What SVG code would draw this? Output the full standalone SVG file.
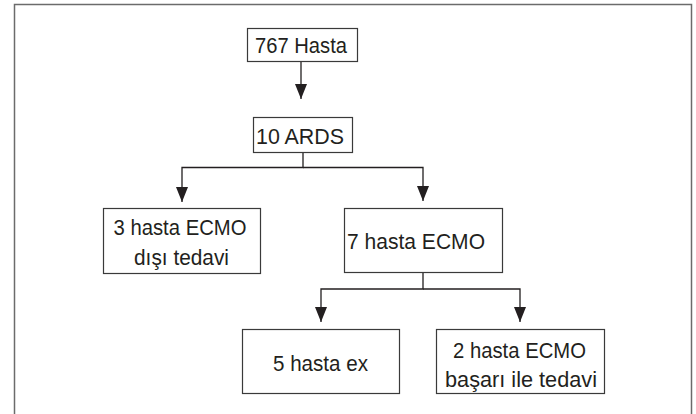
<svg xmlns="http://www.w3.org/2000/svg" width="696" height="414" viewBox="0 0 696 414">
<style>
.frame{fill:none;stroke:#6b6b6b;stroke-width:1.5}
.box{fill:#fff;stroke:#3a3a3a;stroke-width:1.2}
.t{font-family:"Liberation Sans",Arial,sans-serif;font-size:22px;fill:#231f20;text-anchor:middle}
.c{fill:none;stroke:#231f20;stroke-width:1.3}
</style>
<defs>
<marker id="ah" viewBox="0 0 15 12" refX="15" refY="6" markerWidth="15" markerHeight="12" markerUnits="userSpaceOnUse" orient="auto">
<path d="M0,0 L15,6 L0,12 z" fill="#231f20"/>
</marker>
</defs>
<rect width="696" height="414" fill="#fff"/>
<rect class="frame" x="14.5" y="4.5" width="677" height="430"/>
<g id="connectors">
<path class="c" d="M301,61 V99" marker-end="url(#ah)"/>
<path class="c" d="M303,152 V167.5 H182 V202" marker-end="url(#ah)"/>
<path class="c" d="M303,167.5 H423 V201" marker-end="url(#ah)"/>
<path class="c" d="M423,272 V289 H321 V322" marker-end="url(#ah)"/>
<path class="c" d="M423,289 H520 V322" marker-end="url(#ah)"/>
</g>
<g id="n1">
<rect class="box" x="247.5" y="28.5" width="110" height="33"/>
<text class="t" x="301" y="52.5" textLength="92" lengthAdjust="spacingAndGlyphs">767 Hasta</text>
</g>
<g id="n2">
<rect class="box" x="253.5" y="117.5" width="99" height="35"/>
<text class="t" x="300" y="144" textLength="88" lengthAdjust="spacingAndGlyphs">10 ARDS</text>
</g>
<g id="n3">
<rect class="box" x="103.5" y="208.5" width="157" height="65"/>
<text class="t" x="180" y="234.5" textLength="133" lengthAdjust="spacingAndGlyphs">3 hasta ECMO</text>
<text class="t" x="181.5" y="264.5" textLength="95" lengthAdjust="spacingAndGlyphs">dışı tedavi</text>
</g>
<g id="n4">
<rect class="box" x="344.5" y="208.5" width="158" height="64"/>
<text class="t" x="416" y="248.5" textLength="138" lengthAdjust="spacingAndGlyphs">7 hasta ECMO</text>
</g>
<g id="n5">
<rect class="box" x="242.5" y="329.5" width="157" height="64"/>
<text class="t" x="320.5" y="370.5" textLength="95" lengthAdjust="spacingAndGlyphs">5 hasta ex</text>
</g>
<g id="n6">
<rect class="box" x="436.5" y="329.5" width="168" height="64"/>
<text class="t" x="519.5" y="357.5" textLength="133" lengthAdjust="spacingAndGlyphs">2 hasta ECMO</text>
<text class="t" x="521" y="386.5" textLength="152" lengthAdjust="spacingAndGlyphs">başarı ile tedavi</text>
</g>
</svg>
